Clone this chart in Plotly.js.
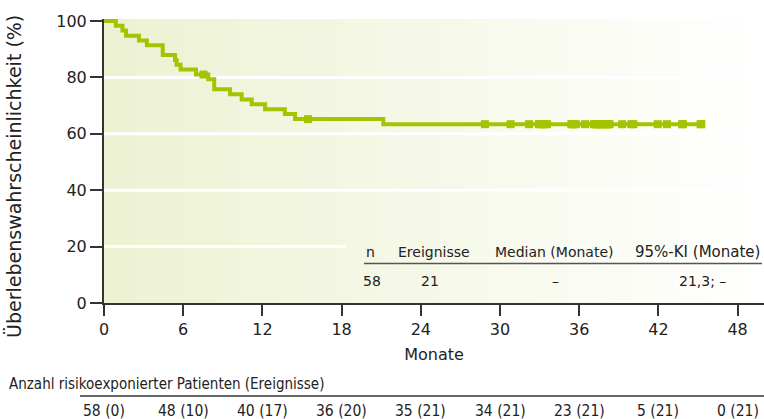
<!DOCTYPE html>
<html>
<head>
<meta charset="utf-8">
<script src="https://cdn.plot.ly/plotly-3.0.1.min.js"></script>
<style>html,body{margin:0;padding:0;background:#fff;}#chart{width:764px;height:419px;}</style>
</head>
<body>
<div id="chart"></div>
<script>
// Kaplan-Meier step data (months, survival %)
var stepMonths = [0, 0.9, 1.4, 1.67, 2.65, 3.25, 4.45, 5.38, 5.5, 5.8, 6.97, 7.9, 8.35, 9.55, 10.43, 11.19, 12.2, 13.7, 14.47, 21.16, 45.25];
var stepSurvival = [100, 98.3, 96.6, 94.8, 93.1, 91.4, 87.9, 86.2, 84.5, 82.8, 81.0, 79.3, 75.8, 74.0, 72.2, 70.5, 68.7, 67.0, 65.2, 63.4, 63.4];

// Censored observations
var censorMonths = [7.54, 15.45, 28.86,
  30.8, 32.2, 32.95, 33.1, 33.25, 33.4, 33.56, 35.4, 35.5, 35.6, 35.75,
  36.44, 37.1, 37.2, 37.3, 37.4, 37.5, 37.6, 37.7, 37.8, 37.95, 38.05, 38.15, 38.2, 38.3, 39.25, 39.95, 40.1, 41.95,
  42.65, 43.8, 43.85, 45.2, 45.25];
var censorSurvival = [81.0, 65.2, 63.4,
  63.4, 63.4, 63.4, 63.4, 63.4, 63.4, 63.4, 63.4, 63.4, 63.4, 63.4,
  63.4, 63.4, 63.4, 63.4, 63.4, 63.4, 63.4, 63.4, 63.4, 63.4, 63.4, 63.4, 63.4, 63.4, 63.4, 63.4, 63.4, 63.4,
  63.4, 63.4, 63.4, 63.4, 63.4];

// Axis ticks
var xTicks = [0, 6, 12, 18, 24, 30, 36, 42, 48];
var yTicks = [0, 20, 40, 60, 80, 100];
var gridValues = [20, 40, 60, 80];

// Number at risk table
var riskMonths = [0, 6, 12, 18, 24, 30, 36, 42, 48];
var riskLabels = ['58 (0)', '48 (10)', '40 (17)', '36 (20)', '35 (21)', '34 (21)', '23 (21)', '5 (21)', '0 (21)'];

// Summary table
var summaryHeaders = ['n', 'Ereignisse', 'Median (Monate)', '95%-KI (Monate)'];
var summaryValues = ['58', '21', '–', '21,3; –'];

var lineColor = '#a3c400';
var font = 'DejaVu Sans, Verdana, sans-serif';
var narrowFont = 'DejaVu Sans Condensed, DejaVu Sans, sans-serif';

var shapes = [];
// gradient background (left light green -> right white)
var nStrips = 60, xMax = 50;
var c0 = [236, 242, 210], c1 = [255, 255, 255];
for (var i = 0; i < nStrips; i++) {
  var f = i / (nStrips - 1);
  var c = c0.map(function (v, k) { return Math.round(v + (c1[k] - v) * f); });
  shapes.push({type: 'rect', layer: 'below', xref: 'x', yref: 'paper',
    x0: xMax * i / nStrips, x1: xMax * (i + 1) / nStrips + 0.05, y0: 0, y1: 1,
    fillcolor: 'rgb(' + c.join(',') + ')', line: {width: 0}});
}
// white grid lines (the one at 20 is interrupted by the summary table)
gridValues.forEach(function (g) {
  shapes.push({type: 'line', layer: 'below', xref: g === 20 ? 'x' : 'paper', yref: 'y',
    x0: 0, x1: g === 20 ? 18.3 : 1, y0: g, y1: g, line: {color: '#ffffff', width: 3}});
});
// summary table rule
shapes.push({type: 'line', xref: 'paper', yref: 'paper', x0: (364 - 104) / 660, x1: (762 - 104) / 660,
  y0: 0.139, y1: 0.139, line: {color: '#555', width: 1.5}});
// risk table rule
shapes.push({type: 'line', xref: 'paper', yref: 'paper', x0: (80 - 104) / 660, x1: 1,
  y0: -0.3275, y1: -0.3275, line: {color: '#333', width: 1.5}});

var annotations = [];
var headerX = [364, 396, 493, 633];
summaryHeaders.forEach(function (h, i) {
  annotations.push({text: h, xref: 'paper', yref: 'paper', x: (headerX[i] - 104) / 660, y: 0.1796,
    xanchor: 'left', yanchor: 'middle', showarrow: false, font: {family: font, size: i === 3 ? 15 : 14, color: '#222'}});
});
var valueX = [372, 430, 555, 702];
summaryValues.forEach(function (v, i) {
  annotations.push({text: v, xref: 'paper', yref: 'paper', x: (valueX[i] - 104) / 660, y: 0.0785,
    xanchor: 'center', yanchor: 'middle', showarrow: false, font: {family: font, size: 14, color: '#222'}});
});
// y-axis title, placed like the reference (slightly below the plot centre)
annotations.push({text: 'Überlebenswahrscheinlichkeit (%)', xref: 'paper', yref: 'paper',
  x: (14 - 104) / 660, y: (303 - 177) / 284, xanchor: 'center', yanchor: 'middle', textangle: -90,
  showarrow: false, font: {family: font, size: 19, color: '#222'}});
annotations.push({text: 'Anzahl risikoexponierter Patienten (Ereignisse)', xref: 'paper', yref: 'paper',
  x: (7 - 104) / 660, y: -0.285, xanchor: 'left', yanchor: 'middle', showarrow: false,
  font: {family: narrowFont, size: 15, color: '#222'}});
riskMonths.forEach(function (m, i) {
  annotations.push({text: riskLabels[i], xref: 'x', yref: 'paper', x: m, y: -0.38,
    xanchor: 'center', yanchor: 'middle', showarrow: false,
    font: {family: narrowFont, size: 15.5, color: '#222'}});
});

var traces = [
  {x: stepMonths, y: stepSurvival, mode: 'lines', line: {shape: 'hv', color: lineColor, width: 4},
    hoverinfo: 'x+y', showlegend: false},
  {x: censorMonths, y: censorSurvival, mode: 'markers',
    marker: {symbol: 'square', size: 8, color: lineColor}, showlegend: false}
];

var layout = {
  width: 764, height: 419,
  margin: {l: 104, r: 0, t: 19, b: 116},
  paper_bgcolor: '#ffffff', plot_bgcolor: '#ffffff',
  font: {family: font, color: '#222'},
  showlegend: false,
  xaxis: {range: [0, 50], tickvals: xTicks, ticktext: xTicks.map(String), ticks: 'outside', ticklen: 11,
    tickwidth: 2, tickcolor: '#333', showline: true, linecolor: '#333', linewidth: 2,
    showgrid: false, zeroline: false, tickfont: {family: font, size: 16, color: '#222'},
    title: {text: 'Monate', font: {family: font, size: 16, color: '#222'}, standoff: 11}},
  yaxis: {range: [0, 100.7], tickvals: yTicks, ticktext: yTicks.map(String), ticks: 'outside', ticklen: 12,
    tickwidth: 2, tickcolor: '#333', showline: true, linecolor: '#333', linewidth: 2,
    showgrid: false, zeroline: false, tickfont: {family: font, size: 16, color: '#222'},
    title: {text: ''}},
  shapes: shapes,
  annotations: annotations
};

Plotly.newPlot('chart', traces, layout, {displayModeBar: false, staticPlot: true});
</script>
</body>
</html>
